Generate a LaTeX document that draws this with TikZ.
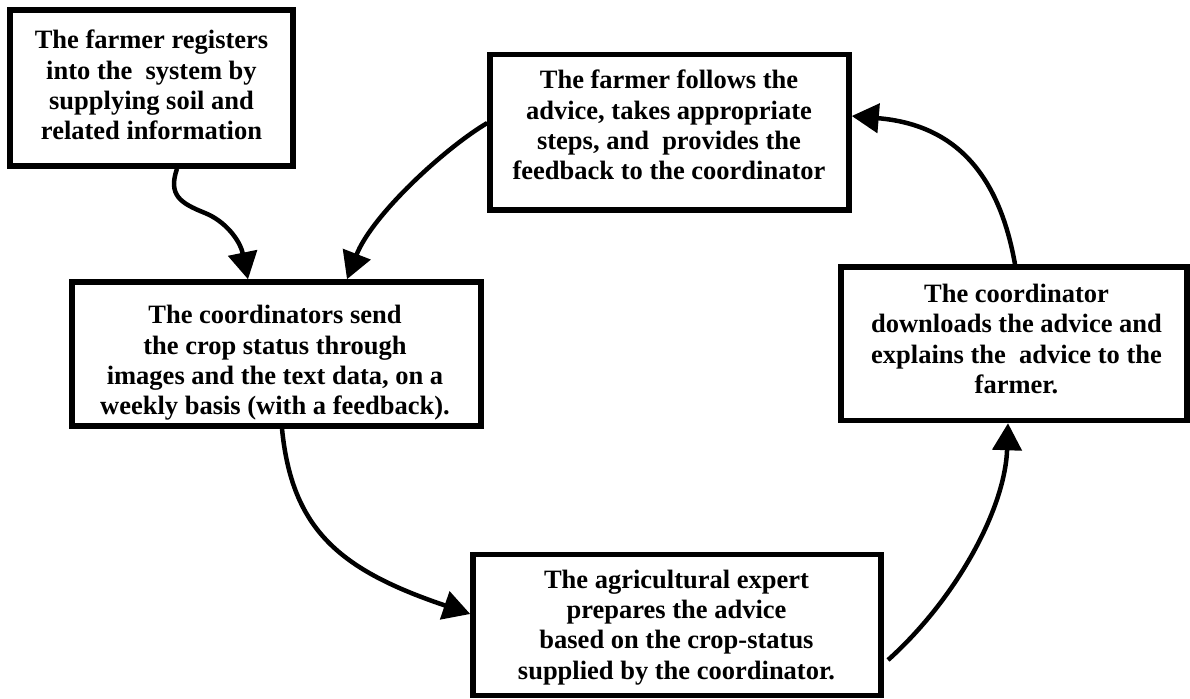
\documentclass[tikz,border=0pt]{standalone}
\usepackage{fontspec}
\setmainfont{Liberation Serif}
\usetikzlibrary{arrows.meta,calc}
\begin{document}
\begin{tikzpicture}[x=1pt,y=-1pt,
  box/.style={draw,line width=5.5pt,inner sep=0pt},
  txt/.style={align=center,inner sep=0pt,font=\fontsize{26.5}{30.3}\selectfont\bfseries},
  flow/.style={line width=4.5pt,-{Triangle[length=27pt,width=29pt]}}]
\useasboundingbox (0,0) rectangle (1190,698);
\fill[white] (0,0) rectangle (1190,698);
% boxes
\node[box,minimum width=283pt,minimum height=156pt] (b1) at (151.5,88) {};
\node[box,minimum width=359pt,minimum height=155.5pt] (b2) at (669.5,132.25) {};
\node[box,minimum width=409pt,minimum height=144pt] (b3) at (276.5,354) {};
\node[box,minimum width=346pt,minimum height=153.5pt] (b4) at (1014,343.75) {};
\node[box,minimum width=408pt,minimum height=141pt] (b5) at (677,625) {};
% texts
\node[txt] (t1) at (151.5,85) {The farmer registers\\into the\ \ system by\\supplying soil and\\related information};
\node[txt] (t2) at (669,125) {The farmer follows the\\advice, takes appropriate\\steps, and\ \ provides the\\feedback to the coordinator};
\begin{scope}
\clip ([xshift=3pt,yshift=-3pt]b3.north west) rectangle ([xshift=-3pt,yshift=9pt]b3.south east);
\node[txt] (t3) at (275,363) {The coordinators send\\the crop status through\\images and the text data, on a\\weekly basis (with a feedback).};
\end{scope}
\node[txt] (t4) at (1016.5,339) {The coordinator\\downloads the advice and\\explains the\ \ advice to the\\farmer.};
\begin{scope}
\clip ([xshift=3pt,yshift=-3pt]b5.north west) rectangle ([xshift=-3pt,yshift=10pt]b5.south east);
\node[txt] (t5) at (676.5,627.5) {The agricultural expert\\prepares the advice\\based on the crop-status\\supplied by the coordinator.};
\end{scope}
% connectors
\coordinate (a4s) at (888,660);
\draw[flow] (b1.south -| 177,0) .. controls (168,195) and (180,203) .. (205,213)
  .. controls (225,221) and (240,240) .. (b3.north -| 248,0);
\draw[flow] (b2.west |- 0,123) .. controls (445,148) and (372,215) .. (b3.north -| 347,0);
\draw[flow] (b3.south -| 282,0) .. controls (292,530) and (340,570) .. (b5.west |- 0,614);
\draw[flow] (a4s) .. controls (955,600) and (1005,510) .. (b4.south -| 1008,0);
\draw[flow] (b4.north -| 1015,0) .. controls (1000,180) and (960,125) .. (b2.east |- 0,116);
\end{tikzpicture}
\end{document}
